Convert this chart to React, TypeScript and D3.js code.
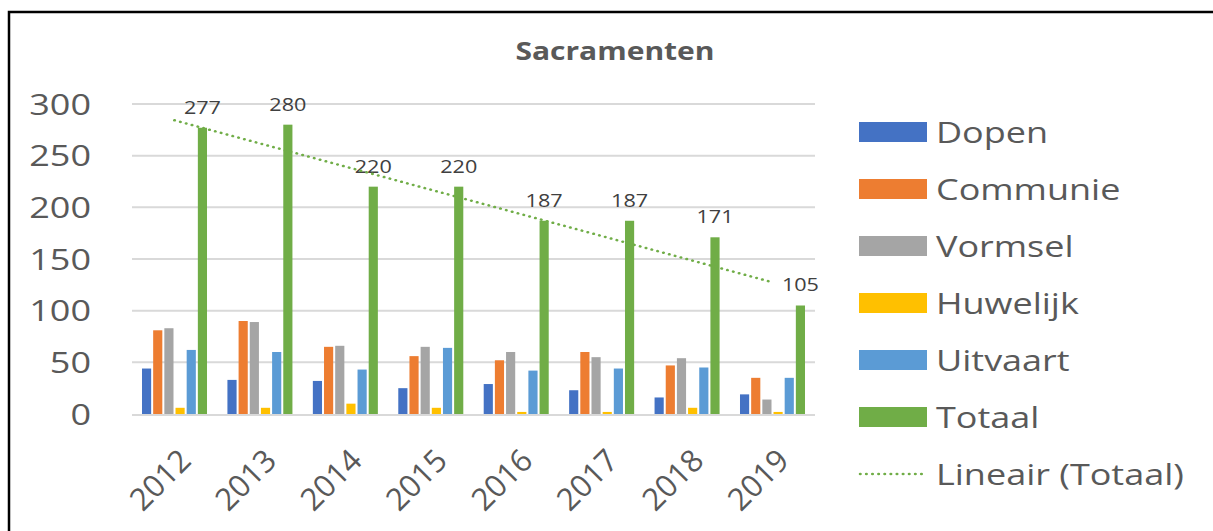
import { useEffect, useRef } from "react";
import * as d3 from "d3";

const years = ["2012", "2013", "2014", "2015", "2016", "2017", "2018", "2019"];
const dopen = [44, 33, 32, 25, 29, 23, 16, 19];
const communie = [81, 90, 65, 56, 52, 60, 47, 35];
const vormsel = [83, 89, 66, 65, 60, 55, 54, 14];
const huwelijk = [6, 6, 10, 6, 2, 2, 6, 2];
const uitvaart = [62, 60, 43, 64, 42, 44, 45, 35];
const totaal = [277, 280, 220, 220, 187, 187, 171, 105];
const yTicks = [0, 50, 100, 150, 200, 250, 300];

const seriesNames = ["Dopen", "Communie", "Vormsel", "Huwelijk", "Uitvaart", "Totaal"];
const seriesValues = [dopen, communie, vormsel, huwelijk, uitvaart, totaal];
const colors = ["#4472C4", "#ED7D31", "#A5A5A5", "#FFC000", "#5B9BD5", "#70AD47"];

// the reference is stretched horizontally, so draw in a narrower space and scale it
const SX = 1.2;
const W = 1213;
const H = 531;

export default function App() {
  const ref = useRef<SVGSVGElement>(null);

  useEffect(() => {
    const root = d3.select(ref.current);
    root.selectAll("*").remove();

    root
      .append("rect")
      .attr("x", 9)
      .attr("y", 12)
      .attr("width", W + 20)
      .attr("height", H + 20)
      .attr("fill", "white")
      .attr("stroke", "black")
      .attr("stroke-width", 2.5);

    const svg = root.append("g").attr("transform", `scale(${SX},1)`);
    const font = "'Open Sans', 'Noto Sans', sans-serif";
    const textColor = "#595959";

    const left = 132 / SX,
      right = 815 / SX;

    const y = d3.scaleLinear().domain([0, 300]).range([414, 104]);
    const x0 = d3
      .scaleBand()
      .domain(years)
      .range([left, right])
      .paddingInner(0.239)
      .paddingOuter(0.117);
    const x1 = d3
      .scaleBand()
      .domain(seriesNames)
      .range([0, x0.bandwidth()])
      .paddingInner(0.18);

    // title
    svg
      .append("text")
      .attr("x", 615 / SX)
      .attr("y", 60)
      .attr("text-anchor", "middle")
      .attr("font-family", font)
      .attr("font-weight", "bold")
      .attr("font-size", 25)
      .attr("fill", textColor)
      .text("Sacramenten");

    // gridlines
    svg
      .selectAll(".grid")
      .data(yTicks)
      .enter()
      .append("line")
      .attr("x1", left)
      .attr("x2", right)
      .attr("y1", (d) => y(d) + (d === 0 ? 1 : 0))
      .attr("y2", (d) => y(d) + (d === 0 ? 1 : 0))
      .attr("stroke", "#D9D9D9")
      .attr("stroke-width", 2);

    // y labels
    svg
      .selectAll(".ylab")
      .data(yTicks)
      .enter()
      .append("text")
      .attr("x", 91 / SX)
      .attr("y", (d) => y(d))
      .attr("dy", "0.36em")
      .attr("text-anchor", "end")
      .attr("font-family", font)
      .attr("font-size", 30)
      .attr("fill", textColor)
      .text((d) => d);

    // bars
    seriesNames.forEach((name, si) => {
      svg
        .append("g")
        .selectAll("rect")
        .data(seriesValues[si])
        .enter()
        .append("rect")
        .attr("x", (d, i) => (x0(years[i]) as number) + (x1(name) as number))
        .attr("width", x1.bandwidth())
        .attr("y", (d) => y(d))
        .attr("height", (d) => y(0) - y(d))
        .attr("fill", colors[si]);
    });

    // data labels on totaal
    svg
      .selectAll(".tlab")
      .data(totaal)
      .enter()
      .append("text")
      .attr("x", (d, i) => (x0(years[i]) as number) + (x1("Totaal") as number) + x1.bandwidth() / 2)
      .attr("y", (d) => y(d) - 14)
      .attr("text-anchor", "middle")
      .attr("font-family", font)
      .attr("font-size", 18)
      .attr("fill", "#404040")
      .text((d) => d);

    // linear trendline of totaal
    const xs = totaal.map((d, i) => i);
    const mx = d3.mean(xs) as number;
    const my = d3.mean(totaal) as number;
    const slope =
      d3.sum(xs, (v, i) => (v - mx) * (totaal[i] - my)) / d3.sum(xs, (v) => (v - mx) * (v - mx));
    const icpt = my - slope * mx;
    const cx = (i: number) => (x0(years[i]) as number) + x0.bandwidth() / 2;
    svg
      .append("line")
      .attr("x1", cx(0))
      .attr("y1", y(icpt))
      .attr("x2", cx(years.length - 1))
      .attr("y2", y(icpt + slope * (years.length - 1)))
      .attr("stroke", "#70AD47")
      .attr("stroke-width", 2.5)
      .attr("stroke-dasharray", "0.1 5")
      .attr("stroke-linecap", "round");

    // x labels (drawn in screen space so the 45° angle stays true)
    root
      .selectAll(".xlab")
      .data(years)
      .enter()
      .append("text")
      .attr(
        "transform",
        (d) => `translate(${((x0(d) as number) + x0.bandwidth() / 2) * SX + 3},${447}) rotate(-45)`
      )
      .attr("text-anchor", "end")
      .attr("dy", "0.7em")
      .attr("font-family", font)
      .attr("font-size", 31)
      .attr("fill", textColor)
      .text((d) => d);

    // legend
    const legendNames = [...seriesNames, "Lineair (Totaal)"];
    const lg = svg
      .selectAll(".leg")
      .data(legendNames)
      .enter()
      .append("g")
      .attr("transform", (d, i) => `translate(${859 / SX},${132 + i * 57})`);
    lg.each(function (d, i) {
      const g = d3.select(this);
      if (i < seriesNames.length) {
        g.append("rect")
          .attr("x", 0)
          .attr("y", -10)
          .attr("width", 68 / SX)
          .attr("height", 20)
          .attr("fill", colors[i]);
      } else {
        g.append("line")
          .attr("x1", 1)
          .attr("x2", 64 / SX)
          .attr("y1", 0)
          .attr("y2", 0)
          .attr("stroke", "#70AD47")
          .attr("stroke-width", 2.5)
          .attr("stroke-dasharray", "0.1 5")
          .attr("stroke-linecap", "round");
      }
      g.append("text")
        .attr("x", 77 / SX)
        .attr("y", 0)
        .attr("dy", "0.36em")
        .attr("font-family", font)
        .attr("font-size", 30)
        .attr("fill", textColor)
        .text(d);
    });
  }, []);

  return <svg ref={ref} width={W} height={H} style={{ position: "absolute", left: 0, top: 0 }} />;
}
